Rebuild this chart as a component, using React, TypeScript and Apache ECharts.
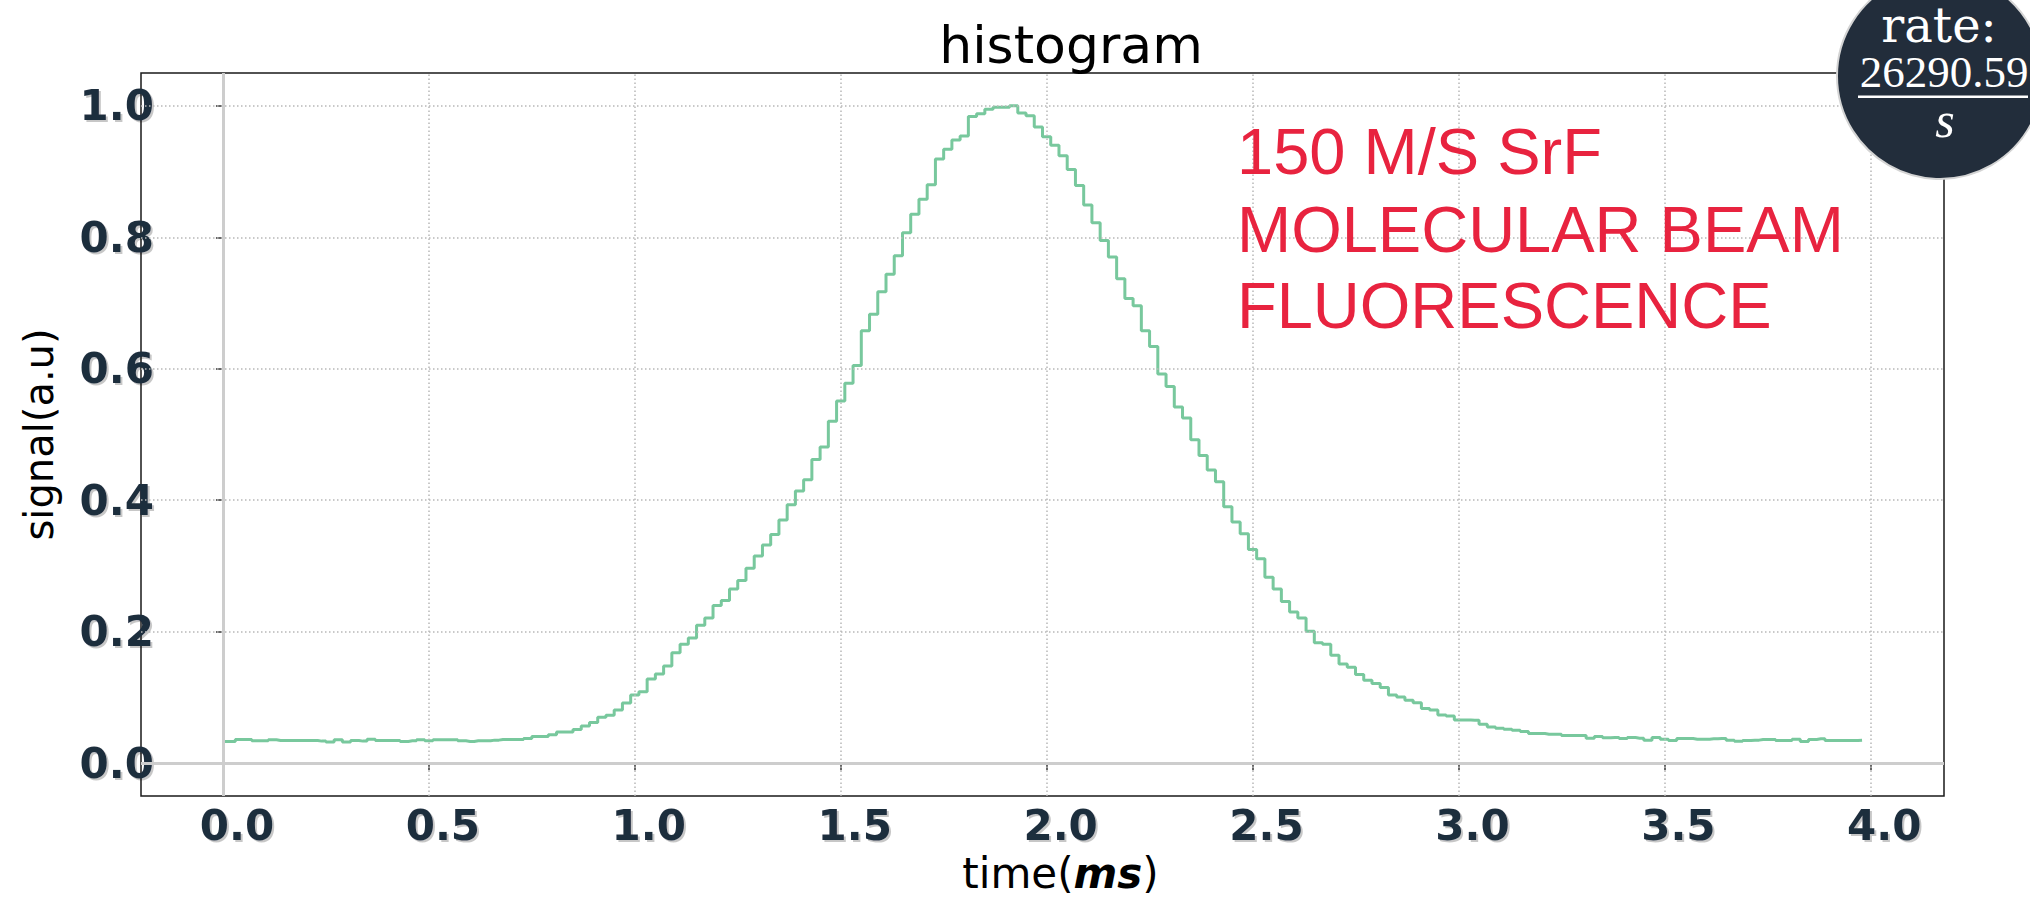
import React, { useEffect, useRef } from 'react';
import * as echarts from 'echarts';

// histogram bins (time in ms): centre of first bin and bin width
const binStartMs = 0;
const binWidthMs = 0.02;

// normalised fluorescence signal, one value per 0.02 ms bin (200 bins)
const signal = [
  0.033, 0.033, 0.036, 0.036, 0.034, 0.034, 0.0355, 0.0345, 0.0345, 0.0345,
  0.0345, 0.0345, 0.0335, 0.032, 0.0355, 0.032, 0.0345, 0.0335, 0.0365, 0.0345,
  0.0345, 0.0345, 0.033, 0.034, 0.0355, 0.034, 0.0355, 0.0355, 0.0355, 0.034,
  0.033, 0.034, 0.034, 0.035, 0.036, 0.036, 0.036, 0.0375, 0.0405, 0.0405,
  0.043, 0.0475, 0.0475, 0.051, 0.0566, 0.062, 0.07, 0.073, 0.081, 0.0915,
  0.1036, 0.1087, 0.128, 0.1355, 0.1476, 0.1678, 0.181, 0.1905, 0.2097, 0.2208,
  0.24, 0.2476, 0.2648, 0.278, 0.2966, 0.315, 0.332, 0.348, 0.37, 0.393,
  0.414, 0.431, 0.462, 0.481, 0.52, 0.551, 0.578, 0.605, 0.658, 0.683,
  0.717, 0.744, 0.772, 0.807, 0.835, 0.858, 0.88, 0.919, 0.934, 0.948,
  0.954, 0.984, 0.988, 0.995, 0.998, 0.998, 1.0, 0.989, 0.985, 0.968,
  0.953, 0.94, 0.924, 0.903, 0.879, 0.849, 0.822, 0.795, 0.77, 0.737,
  0.707, 0.696, 0.658, 0.634, 0.592, 0.573, 0.542, 0.525, 0.492, 0.468,
  0.446, 0.428, 0.39, 0.367, 0.349, 0.325, 0.311, 0.283, 0.265, 0.246,
  0.23, 0.221, 0.2006, 0.183, 0.181, 0.164, 0.151, 0.146, 0.135, 0.126,
  0.121, 0.115, 0.1035, 0.1005, 0.0955, 0.092, 0.0833, 0.0808, 0.0733, 0.0717,
  0.0657, 0.0655, 0.0652, 0.0591, 0.0551, 0.0531, 0.0515, 0.05, 0.048, 0.045,
  0.045, 0.044, 0.044, 0.042, 0.042, 0.042, 0.038, 0.0405, 0.0385, 0.039,
  0.0375, 0.039, 0.038, 0.035, 0.039, 0.0365, 0.0345, 0.0375, 0.0375, 0.0365,
  0.0365, 0.037, 0.0375, 0.035, 0.0334, 0.0345, 0.035, 0.036, 0.036, 0.0345,
  0.0345, 0.0365, 0.033, 0.036, 0.037, 0.0345, 0.0345, 0.0345, 0.0345, 0.035,
];

const xTickValues = [0, 0.5, 1.0, 1.5, 2.0, 2.5, 3.0, 3.5, 4.0];
const yTickValues = [0, 0.2, 0.4, 0.6, 0.8, 1.0];
const referenceLinesX = [0];
const referenceLinesY = [0];

const titleText = 'histogram';
const xAxisName = 'time({b|ms})';
const yAxisName = 'signal(a.u)';
const annotationLines = ['150 M/S SrF', 'MOLECULAR BEAM', 'FLUORESCENCE'];
const rateLabel = 'rate:';
const rateValue = '26290.59';
const rateUnit = 's';

export default function App() {
  const ref = useRef<HTMLDivElement>(null);

  useEffect(() => {
    document.body.style.margin = '0';
    const chart = echarts.init(ref.current as HTMLDivElement, null, { renderer: 'svg' });
    const points = signal.map((v, i) => [binStartMs + i * binWidthMs, v]);
    const tickColor = '#1f2d3d';
    const labelShadow = {
      textShadowColor: 'rgba(0,0,0,0.22)',
      textShadowBlur: 1,
      textShadowOffsetX: 2,
      textShadowOffsetY: 2,
    };

    const option: any = {
      animation: false,
      backgroundColor: '#ffffff',
      grid: {
        left: 141,
        top: 73,
        width: 1803,
        height: 726,
        show: true,
        borderColor: '#1a1a1a',
        borderWidth: 1.5,
        backgroundColor: 'transparent',
        containLabel: false,
      },
      xAxis: {
        type: 'value',
        min: -0.199,
        max: 4.179,
        axisLine: { show: false },
        splitLine: { show: false },
        axisTick: {
          show: true,
          customValues: xTickValues,
          length: 7,
          lineStyle: { color: '#333', width: 1.5 },
        },
        axisLabel: {
          customValues: xTickValues,
          formatter: (v: number) => v.toFixed(1),
          fontFamily: 'DejaVu Sans',
          fontWeight: 'bold',
          fontSize: 42,
          color: tickColor,
          margin: 8,
          padding: [0, 0, 0, 28],
          ...labelShadow,
        },
        name: xAxisName,
        nameLocation: 'middle',
        nameGap: 56,
        nameTextStyle: {
          fontFamily: 'DejaVu Sans',
          fontSize: 42,
          color: '#000',
          padding: [0, 0, 0, 36],
          rich: {
            b: {
              fontFamily: 'DejaVu Sans',
              fontSize: 42,
              fontWeight: 'bold',
              fontStyle: 'italic',
              color: '#000',
            },
          },
        },
      },
      yAxis: {
        type: 'value',
        min: -0.05,
        max: 1.05,
        axisLine: { show: false },
        splitLine: { show: false },
        axisTick: {
          show: true,
          customValues: yTickValues,
          length: 7,
          lineStyle: { color: '#333', width: 1.5 },
        },
        axisLabel: {
          customValues: yTickValues,
          formatter: (v: number) => v.toFixed(1),
          fontFamily: 'DejaVu Sans',
          fontWeight: 'bold',
          fontSize: 42,
          color: tickColor,
          margin: -13,
          ...labelShadow,
        },
        name: yAxisName,
        nameLocation: 'middle',
        nameGap: 72,
        nameTextStyle: {
          fontFamily: 'DejaVu Sans',
          fontSize: 40,
          color: '#000',
          padding: [0, 0, 10, 0],
        },
      },
      series: [
        {
          type: 'line',
          data: [],
          z: 1,
          silent: true,
          markLine: {
            silent: true,
            symbol: 'none',
            label: { show: false },
            lineStyle: { color: '#b8b8b8', width: 1.5, type: [1.5, 2.5] },
            data: [
              ...xTickValues.map((v) => ({ xAxis: v })),
              ...yTickValues.map((v) => ({ yAxis: v })),
            ],
          },
        },
        {
          type: 'line',
          data: [],
          z: 2,
          silent: true,
          markLine: {
            silent: true,
            symbol: 'none',
            label: { show: false },
            lineStyle: { color: '#cdcdcd', width: 3, type: 'solid' },
            data: [
              ...referenceLinesX.map((v) => ({ xAxis: v })),
              ...referenceLinesY.map((v) => ({ yAxis: v })),
            ],
          },
        },
        {
          type: 'line',
          name: 'signal',
          data: points,
          step: 'middle',
          showSymbol: false,
          symbol: 'none',
          z: 3,
          lineStyle: { color: '#78c89d', width: 3 },
        },
      ],
      graphic: [
        {
          type: 'text',
          x: 1071,
          y: 45,
          style: {
            text: titleText,
            fontFamily: 'DejaVu Sans',
            fontSize: 52,
            fill: '#000',
            textAlign: 'center',
            textVerticalAlign: 'middle',
          },
          z: 50,
        },
        ...annotationLines.map((t, i) => ({
          type: 'text',
          x: 1237,
          y: [151.5, 229.2, 305.8][i],
          style: {
            text: t,
            fontFamily: 'Liberation Sans',
            fontSize: 65,
            fill: '#e8233f',
            textAlign: 'left',
            textVerticalAlign: 'middle',
          },
          z: 50,
        })),
        {
          type: 'circle',
          shape: { cx: 1940, cy: 76, r: 103 },
          style: { fill: '#222d3b', stroke: '#d4d4d4', lineWidth: 2 },
          z: 100,
        },
        {
          type: 'text',
          x: 1939,
          y: 25,
          style: {
            text: rateLabel,
            fontFamily: 'DejaVu Serif',
            fontSize: 48,
            lineHeight: 40,
            fill: '#ffffff',
            textAlign: 'center',
            textVerticalAlign: 'middle',
          },
          z: 101,
        },
        {
          type: 'text',
          x: 1944,
          y: 72,
          style: {
            text: rateValue,
            fontFamily: 'Liberation Serif',
            fontSize: 45,
            lineHeight: 38,
            fill: '#ffffff',
            textAlign: 'center',
            textVerticalAlign: 'middle',
          },
          z: 101,
        },
        {
          type: 'line',
          shape: { x1: 1858, y1: 96.7, x2: 2028, y2: 96.7 },
          style: { stroke: '#ffffff', lineWidth: 2.5 },
          z: 101,
        },
        {
          type: 'text',
          x: 1945,
          y: 120,
          style: {
            text: rateUnit,
            fontFamily: 'Liberation Serif',
            fontStyle: 'italic',
            fontSize: 50,
            fill: '#ffffff',
            textAlign: 'center',
            textVerticalAlign: 'middle',
          },
          z: 101,
        },
      ],
    };

    chart.setOption(option);
    return () => {
      chart.dispose();
    };
  }, []);

  return <div ref={ref} style={{ width: 2030, height: 899 }} />;
}
